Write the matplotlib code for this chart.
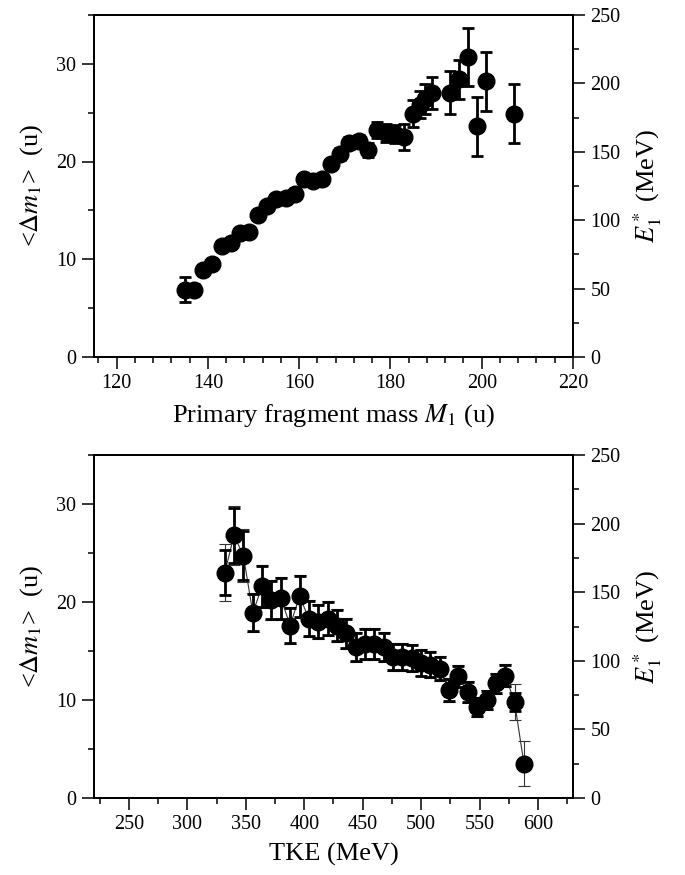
import matplotlib
matplotlib.use("Agg")
from matplotlib import pyplot as plt
from matplotlib.ticker import MultipleLocator
import numpy as np

plt.rcParams['font.family'] = ['Liberation Serif', 'DejaVu Serif']
plt.rcParams['mathtext.fontset'] = 'stix'

# --- datos panel superior: <dm1> vs masa primaria M1 ---
masa_M1 = [135, 137, 139, 141, 143, 145, 147, 149, 151, 153, 155, 157, 159, 161,
           163, 165, 167, 169, 171, 173, 175, 177, 179, 181, 183, 185, 186.5, 187.5,
           189, 193, 195, 197, 199, 201, 207]
dm_M1 = [6.9, 6.9, 8.9, 9.5, 11.4, 11.7, 12.7, 12.8, 14.5, 15.4, 16.2, 16.3, 16.7, 18.2,
         18.0, 18.2, 19.7, 20.8, 21.9, 22.1, 21.2, 23.2, 22.9, 22.8, 22.5, 24.9, 25.8, 26.4,
         27.0, 27.05, 28.4, 30.7, 23.6, 28.2, 24.9]
err_M1 = [1.3, 0.6, 0.5, 0.5, 0.5, 0.5, 0.5, 0.5, 0.5, 0.5, 0.5, 0.5, 0.5, 0.5,
          0.5, 0.5, 0.5, 0.6, 0.6, 0.6, 0.7, 0.8, 0.9, 0.9, 1.3, 1.4, 1.4, 1.5,
          1.6, 2.2, 2.0, 3.0, 3.0, 3.0, 3.0]

# --- datos panel inferior: <dm1> vs TKE ---
tke = [332, 340, 348, 356, 364, 372, 380, 388, 396, 404, 412, 420, 428, 436, 444,
       452, 460, 468, 476, 484, 492, 500, 508, 516, 524, 532, 540, 548, 556, 564,
       572, 580, 588]
dm_tke = [23.0, 26.8, 24.7, 18.9, 21.6, 20.2, 20.4, 17.6, 20.6, 18.3, 18.0, 18.3, 17.6,
          16.8, 15.4, 15.7, 15.7, 15.4, 14.4, 14.4, 14.3, 13.8, 13.6, 13.2, 11.0, 12.4,
          10.8, 9.3, 10.0, 11.7, 12.5, 9.8, 3.5]
err_tke = [2.3, 2.8, 2.5, 1.9, 2.1, 1.9, 2.1, 1.8, 2.1, 1.8, 1.7, 1.7, 1.6,
           1.5, 1.4, 1.5, 1.5, 1.4, 1.3, 1.3, 1.3, 1.3, 1.3, 1.2, 1.1, 1.1,
           1.0, 0.9, 0.9, 1.0, 1.1, 0.95, 0.0]
err_tke_fino = [2.9, 3.0, 2.7, 2.0, 2.2, 2.0, 2.2, 1.9, 2.2, 1.9, 1.8, 1.8, 1.7,
                1.6, 1.5, 1.6, 1.6, 1.5, 1.4, 1.4, 1.4, 1.4, 1.4, 1.3, 1.2, 1.2,
                1.1, 1.0, 1.0, 1.1, 1.2, 1.8, 2.3]

MEV_MAX = 250
DM_MAX = 35


def estilo_ejes(ax, ax2):
    for a in (ax, ax2):
        for s in a.spines.values():
            s.set_linewidth(1.4)
    ax.tick_params(axis='both', which='major', direction='out', length=8.5, width=1.1,
                   labelsize=14.5, pad=4, top=False)
    ax.tick_params(axis='both', which='minor', direction='out', length=4.5, width=1.1, top=False)
    ax2.tick_params(axis='y', which='major', direction='out', length=8.5, width=1.1,
                    labelsize=14.5, pad=4)
    ax2.tick_params(axis='y', which='minor', direction='out', length=4.5, width=1.1)
    ax.set_ylim(0, DM_MAX)
    ax.yaxis.set_major_locator(MultipleLocator(10))
    ax.yaxis.set_minor_locator(MultipleLocator(5))
    ax2.set_ylim(0, MEV_MAX)
    ax2.yaxis.set_major_locator(MultipleLocator(50))
    ax2.yaxis.set_minor_locator(MultipleLocator(25))
    ax.set_ylabel(r'<$\Delta \mathit{m}_1$>  (u)', fontsize=19, labelpad=8)
    ax2.set_ylabel(r'$E_1^*$ (MeV)', fontsize=19, labelpad=8)


fig = plt.figure(figsize=(6.85, 8.75), dpi=100)

# panel superior
ax1 = fig.add_axes([0.137, 0.592, 0.6995, 0.391])
ax1b = ax1.twinx()
ax1.errorbar(masa_M1, dm_M1, yerr=err_M1, fmt='o', color='black', ms=12,
             elinewidth=2, capsize=4.5, capthick=2, zorder=3)
ax1.set_xlim(115, 220)
ax1.xaxis.set_major_locator(MultipleLocator(20))
ax1.xaxis.set_minor_locator(MultipleLocator(4))
ax1.set_xlabel(r'Primary fragment mass $\mathit{M}_1$ (u)', fontsize=19, labelpad=6)
estilo_ejes(ax1, ax1b)

# panel inferior
ax2 = fig.add_axes([0.137, 0.088, 0.6995, 0.392])
ax2b = ax2.twinx()
ax2.errorbar(tke, dm_tke, yerr=err_tke_fino, fmt='-', color='#333333', lw=0.8,
             elinewidth=0.8, capsize=4.5, capthick=0.8, zorder=2)
mask = np.array(err_tke) > 0
ax2.errorbar(np.array(tke)[mask], np.array(dm_tke)[mask], yerr=np.array(err_tke)[mask],
             fmt='none', ecolor='black', elinewidth=2, capsize=4.5, capthick=2, zorder=3)
ax2.plot(tke, dm_tke, 'o', color='black', ms=12, zorder=4)
ax2.set_xlim(220, 630)
ax2.xaxis.set_major_locator(MultipleLocator(50))
ax2.xaxis.set_minor_locator(MultipleLocator(25))
ax2.set_xlabel('TKE (MeV)', fontsize=19, labelpad=6)
estilo_ejes(ax2, ax2b)

fig.savefig('out.png', dpi=100)
